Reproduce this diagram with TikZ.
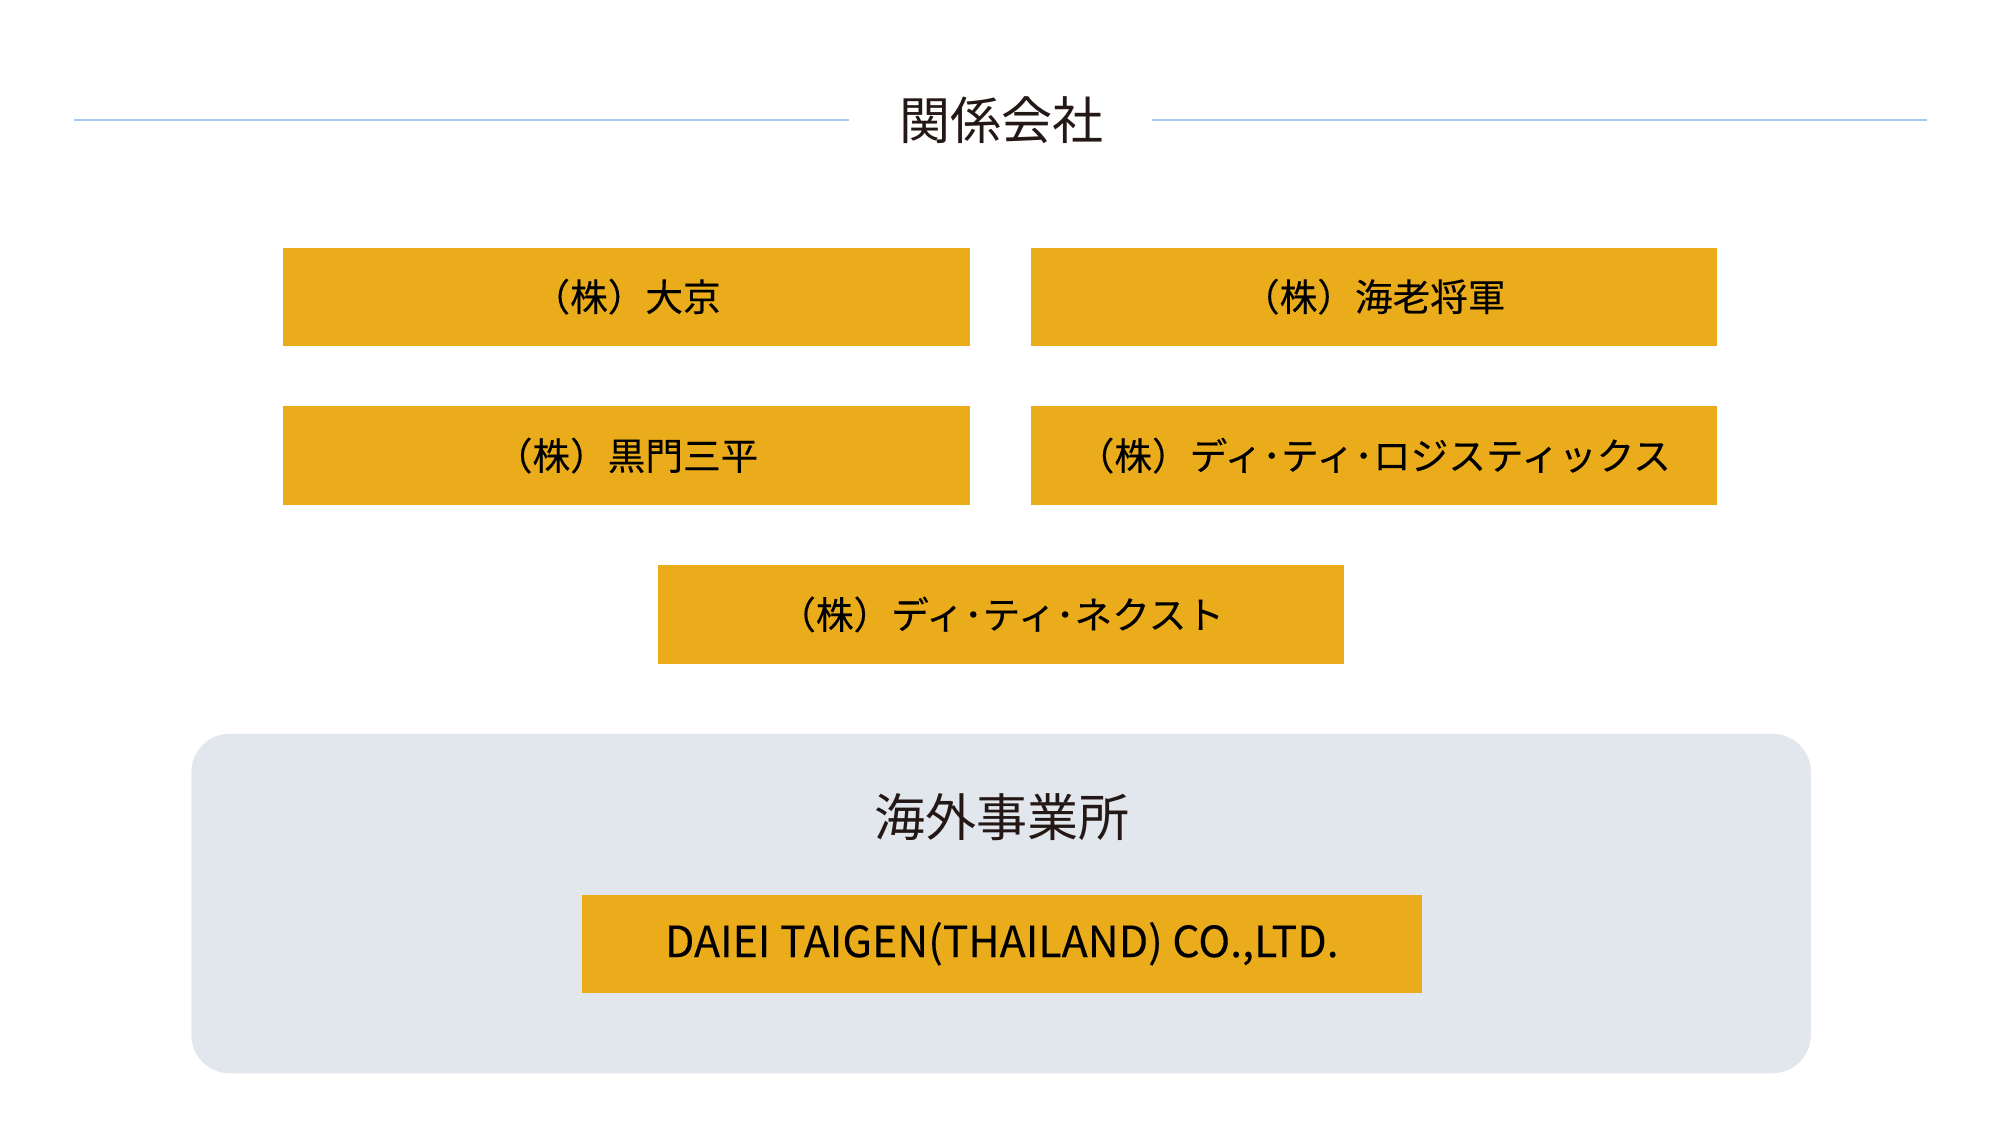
\documentclass[tikz,border=0pt]{standalone}
\usepackage{fontspec}
\setmainfont{Noto Sans CJK JP}
\newfontfamily\boxfont[FakeBold=0.25]{Noto Sans CJK JP}
\newfontfamily\latinbox[FakeBold=0.2]{Noto Sans CJK JP}
\definecolor{gold}{HTML}{EBAC1C}
\definecolor{panel}{HTML}{E2E7EE}
\definecolor{rule}{HTML}{A9C8EE}
\definecolor{ink}{HTML}{231815}
\begin{document}
\begin{tikzpicture}[x=0.5pt,y=-0.5pt,
  company/.style={fill=gold,draw=none,minimum width=269pt,minimum height=38.5pt,inner sep=0pt,font=\boxfont\fontsize{14.75}{18}\selectfont,text=black},
  heading/.style={font=\fontsize{20}{24}\selectfont,text=ink}]
\useasboundingbox (0,0) rectangle (1568,889.4);
\fill[white] (0,0) rectangle (1568,889.4);
% heading
\node[heading] (title) at (785,94) {関係会社};
\coordinate (l1) at (58,94);
\coordinate (l2) at (665,94);
\coordinate (r1) at (903,94);
\coordinate (r2) at (1510,94);
\draw[rule,line width=0.8pt] (l1) -- (l2);
\draw[rule,line width=0.8pt] (r1) -- (r2);
% companies
\node[company] (c1) at (491,232.5) {（株）大京};
\node[company] (c2) at (1076.5,232.5) {（株）海老将軍};
\node[company] (c3) at (491,357) {（株）黒門三平};
\node[company] (c4) at (1076.5,357) {（株）ディ･ティ･ロジスティックス};
\node[company] (c5) at (784.5,481.5) {（株）ディ･ティ･ネクスト};
% overseas
\fill[panel,rounded corners=15pt] (150,575) rectangle (1419,841);
\node[heading] (ov) at (785,640) {海外事業所};
\node[company,minimum width=329pt,font=\latinbox\fontsize{16.8}{19}\selectfont] (c6) at (785,739.5) {DAIEI TAIGEN(THAILAND) CO.,LTD.};
\end{tikzpicture}
\end{document}
